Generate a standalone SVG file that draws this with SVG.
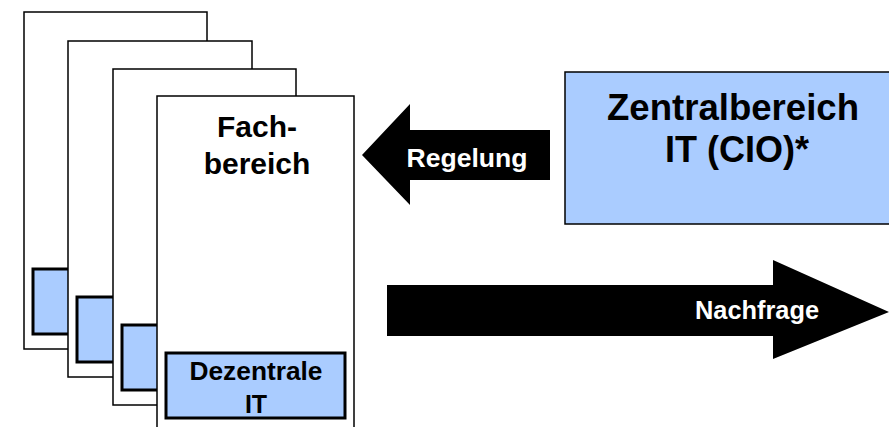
<svg xmlns="http://www.w3.org/2000/svg" width="889" height="427" viewBox="0 0 889 427">
<style>
.page{fill:#fff;stroke:#000;stroke-width:1.5}
.it{fill:#aaccff;stroke:#000;stroke-width:3}
.t{font-family:"Liberation Sans",Arial,sans-serif;font-weight:bold;text-anchor:middle;fill:#000}
.w{fill:#fff}
.arrow{fill:#000}
</style>
<rect width="889" height="427" fill="#fff"/>
<g id="fachbereich1">
<rect class="page" x="24" y="12" width="183" height="337"/>
<rect class="it" x="33" y="269" width="179" height="65"/>
</g>
<g id="fachbereich2">
<rect class="page" x="68" y="41" width="184" height="336"/>
<rect class="it" x="77" y="297" width="179" height="65"/>
</g>
<g id="fachbereich3">
<rect class="page" x="113" y="69" width="183" height="336"/>
<rect class="it" x="122" y="325" width="179" height="65"/>
</g>
<g id="fachbereich4">
<rect class="page" x="157" y="96" width="197" height="340"/>
<text class="t" x="257" y="137" font-size="30">Fach-</text>
<text class="t" x="257" y="174" font-size="30">bereich</text>
</g>
<g id="dezentrale-it">
<rect class="it" x="166" y="353" width="179" height="65"/>
<text class="t" x="256" y="380" font-size="25" textLength="133" lengthAdjust="spacingAndGlyphs">Dezentrale</text>
<text class="t" x="256" y="413" font-size="25">IT</text>
</g>
<g id="zentralbereich">
<rect class="it" x="565" y="72" width="330" height="152" style="stroke-width:1.5"/>
<text class="t" x="733" y="120" font-size="36" textLength="252" lengthAdjust="spacingAndGlyphs">Zentralbereich</text>
<text class="t" x="737" y="162" font-size="36">IT (CIO)*</text>
</g>
<g id="connectors">
<g id="regelung">
<polygon class="arrow" points="362,155 410,104 410,130 550,130 550,180 410,180 410,205"/>
<text class="t w" x="467" y="167" font-size="26.5" textLength="121" lengthAdjust="spacingAndGlyphs">Regelung</text>
</g>
<g id="nachfrage">
<polygon class="arrow" points="387,285 773,285 773,260 889,312 773,359 773,336 387,336"/>
<text class="t w" x="757" y="319" font-size="25" textLength="124" lengthAdjust="spacingAndGlyphs">Nachfrage</text>
</g>
</g>
</svg>
